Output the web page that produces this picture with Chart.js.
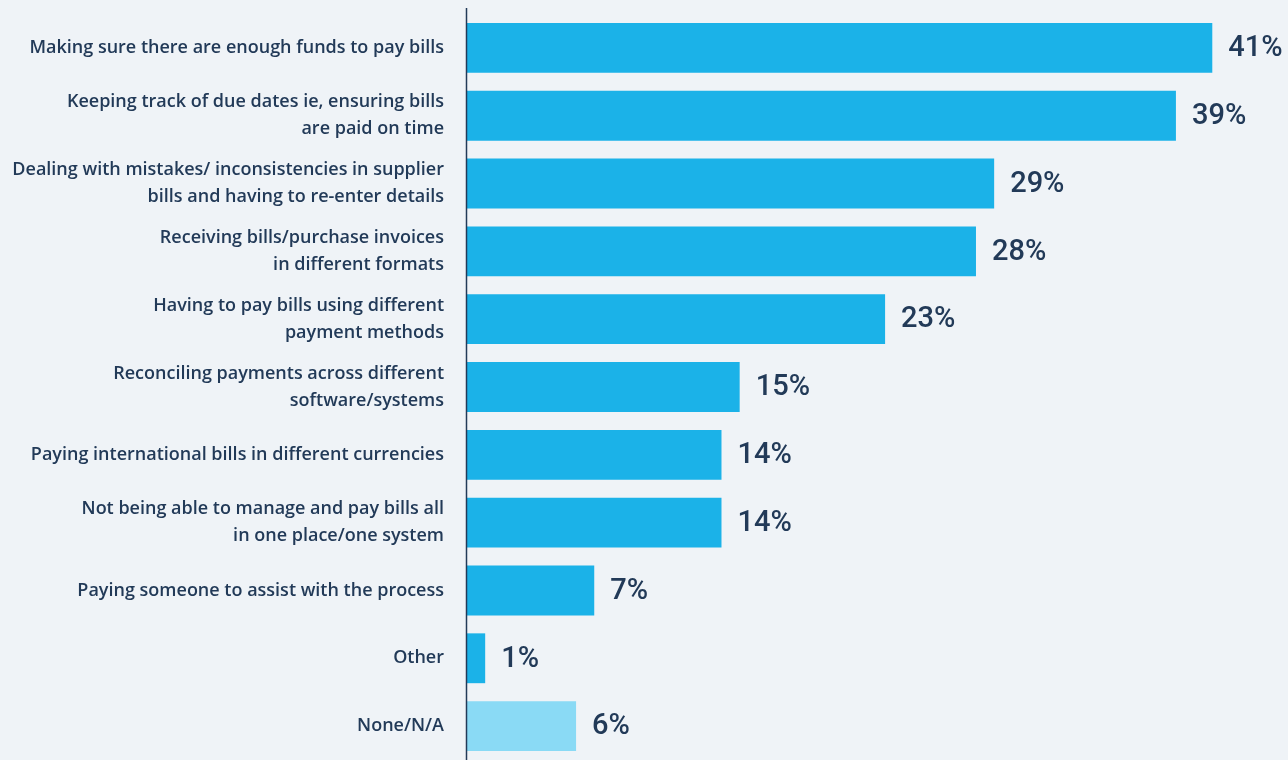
<!DOCTYPE html>
<html>
<head>
<meta charset="utf-8">
<script src="https://cdn.jsdelivr.net/npm/chart.js@4"></script>
<style>
  html, body { margin: 0; padding: 0; background: #eff3f7; }
  #wrap { width: 1288px; height: 760px; position: relative; }
</style>
</head>
<body>
<div id="wrap"><canvas id="c" width="1288" height="760"></canvas></div>
<script>
const categories = [
  ["Making sure there are enough funds to pay bills"],
  ["Keeping track of due dates ie, ensuring bills", "are paid on time"],
  ["Dealing with mistakes/ inconsistencies in supplier", "bills and having to re-enter details"],
  ["Receiving bills/purchase invoices", "in different formats"],
  ["Having to pay bills using different", "payment methods"],
  ["Reconciling payments across different", "software/systems"],
  ["Paying international bills in different currencies"],
  ["Not being able to manage and pay bills all", "in one place/one system"],
  ["Paying someone to assist with the process"],
  ["Other"],
  ["None/N/A"]
];
const values = [41, 39, 29, 28, 23, 15, 14, 14, 7, 1, 6];
const valueLabels = ["41%", "39%", "29%", "28%", "23%", "15%", "14%", "14%", "7%", "1%", "6%"];

const NAVY = '#223a58';
const BAR = '#1bb2e8';
const BAR_LIGHT = '#8adaf5';

const valueLabelPlugin = {
  id: 'valueLabels',
  afterDatasetsDraw(chart) {
    const ctx = chart.ctx;
    const meta = chart.getDatasetMeta(0);
    ctx.save();
    ctx.fillStyle = NAVY;
    ctx.font = '500 29px Roboto, Inter, sans-serif';
    ctx.textAlign = 'left';
    ctx.textBaseline = 'middle';
    meta.data.forEach((bar, i) => {
      ctx.fillText(valueLabels[i], bar.x + 16, bar.y + 1);
    });
    ctx.restore();
  }
};

const axisLinePlugin = {
  id: 'axisLine',
  afterDraw(chart) {
    const ctx = chart.ctx;
    const x = chart.chartArea.left - 0.5;
    ctx.save();
    ctx.strokeStyle = NAVY;
    ctx.lineWidth = 1.5;
    ctx.beginPath();
    ctx.moveTo(x, 8);
    ctx.lineTo(x, chart.height);
    ctx.stroke();
    ctx.restore();
  }
};

new Chart(document.getElementById('c'), {
  type: 'bar',
  data: {
    labels: categories,
    datasets: [{
      data: values,
      backgroundColor: (c) => c.dataIndex === categories.length - 1 ? BAR_LIGHT : BAR,
      borderWidth: 0,
      barPercentage: 0.735,
      categoryPercentage: 1.0
    }]
  },
  options: {
    indexAxis: 'y',
    responsive: false,
    animation: false,
    layout: { padding: { top: 14, right: 3, bottom: 0, left: 0 } },
    plugins: { legend: { display: false }, tooltip: { enabled: false } },
    scales: {
      x: {
        display: false,
        min: 0,
        max: 45
      },
      y: {
        afterFit(scale) {
          scale.width = 467;
          scale.paddingTop = 0;
          scale.paddingBottom = 0;
        },
        grid: { display: false, drawTicks: false },
        border: { display: false },
        ticks: {
          color: NAVY,
          padding: 23,
          font: { family: "'Open Sans', sans-serif", size: 18, weight: '600', lineHeight: 1.5 }
        }
      }
    }
  },
  plugins: [valueLabelPlugin, axisLinePlugin]
});
</script>
</body>
</html>
